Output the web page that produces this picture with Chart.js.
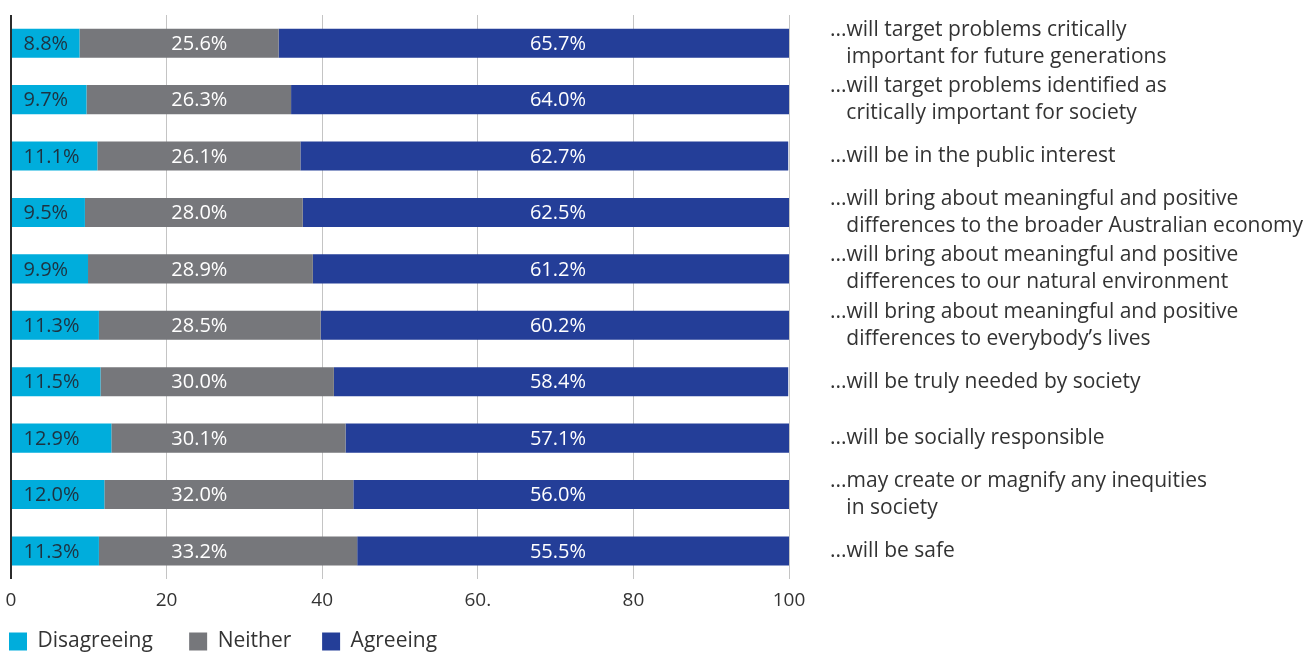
<!DOCTYPE html>
<html>
<head>
<meta charset="utf-8">
<script src="https://cdn.jsdelivr.net/npm/chart.js@4"></script>
<style>
html,body{margin:0;padding:0;background:#fff;}
#wrap{width:1306px;height:655px;position:relative;}
</style>
</head>
<body>
<div id="wrap"><canvas id="c" width="1306" height="655"></canvas></div>
<script>
const categories = [
  ["...will target problems critically", "   important for future generations"],
  ["...will target problems identified as", "   critically important for society"],
  ["...will be in the public interest"],
  ["...will bring about meaningful and positive", "   differences to the broader Australian economy"],
  ["...will bring about meaningful and positive", "   differences to our natural environment"],
  ["...will bring about meaningful and positive", "   differences to everybody\u2019s lives"],
  ["...will be truly needed by society"],
  ["...will be socially responsible"],
  ["...may create or magnify any inequities", "   in society"],
  ["...will be safe"]
];
const seriesNames = ["Disagreeing", "Neither", "Agreeing"];
const disagreeing = [8.8, 9.7, 11.1, 9.5, 9.9, 11.3, 11.5, 12.9, 12.0, 11.3];
const neither     = [25.6, 26.3, 26.1, 28.0, 28.9, 28.5, 30.0, 30.1, 32.0, 33.2];
const agreeing    = [65.7, 64.0, 62.7, 62.5, 61.2, 60.2, 58.4, 57.1, 56.0, 55.5];
const xTickValues = [0, 20, 40, 60, 80, 100];
const xTickLabels = ["0", "20", "40", "60.", "80", "100"];

const colors = ["#00ADDC", "#76777B", "#243E98"];
const labelColors = ["#1e3240", "#ffffff", "#ffffff"];
const labelAnchor = [1.6, 20.6, 66.7];
const legendPad = ["\u00A0\u00A0\u00A0\u00A0\u00A0", "\u00A0\u00A0\u00A0\u00A0", ""];

const valueLabels = {
  id: 'valueLabels',
  afterDatasetsDraw(chart) {
    const ctx = chart.ctx;
    const xs = chart.scales.x;
    ctx.save();
    ctx.font = '20px "Open Sans"';
    ctx.textBaseline = 'middle';
    ctx.textAlign = 'left';
    chart.data.datasets.forEach((ds, i) => {
      const meta = chart.getDatasetMeta(i);
      meta.data.forEach((el, j) => {
        ctx.fillStyle = labelColors[i];
        ctx.fillText(ds.data[j].toFixed(1) + '%', xs.getPixelForValue(labelAnchor[i]), el.y + 1);
      });
    });
    ctx.restore();
  }
};

function zeroPad(s) { s.paddingTop = 0; s.paddingBottom = 0; s.paddingLeft = 0; s.paddingRight = 0; }

new Chart(document.getElementById('c'), {
  type: 'bar',
  data: {
    labels: categories,
    datasets: [
      { label: seriesNames[0], data: disagreeing, backgroundColor: colors[0], yAxisID: 'y' },
      { label: seriesNames[1], data: neither, backgroundColor: colors[1], yAxisID: 'y' },
      { label: seriesNames[2], data: agreeing, backgroundColor: colors[2], yAxisID: 'y' }
    ]
  },
  options: {
    indexAxis: 'y',
    responsive: false,
    animation: false,
    layout: { padding: { left: 0, right: 0, top: 15, bottom: -7 } },
    datasets: { bar: { barPercentage: 0.515, categoryPercentage: 1 } },
    scales: {
      x: {
        stacked: true,
        min: 0, max: 100,
        afterBuildTicks(s) { s.ticks = xTickValues.map(v => ({ value: v })); },
        afterFit: zeroPad,
        grid: {
          drawTicks: false,
          color: c => (c.tick && c.tick.value === 0) ? '#2b2b2b' : '#c4c4c4',
          lineWidth: c => (c.tick && c.tick.value === 0) ? 2 : 1
        },
        border: { display: false },
        ticks: {
          padding: 10,
          color: '#333',
          font: { family: '"Open Sans"', size: 19 },
          callback: (v, i) => xTickLabels[i]
        }
      },
      y: {
        stacked: true,
        position: 'right',
        grid: { display: false, drawTicks: false },
        border: { display: false },
        afterFit(s) { s.width = 517; zeroPad(s); },
        ticks: {
          autoSkip: false,
          padding: 41,
          crossAlign: 'near',
          color: '#333',
          font: { family: '"Open Sans"', size: 21, lineHeight: 1.29 }
        }
      },
      yLeft: {
        type: 'category',
        position: 'left',
        display: true,
        grid: { display: false, drawTicks: false },
        border: { display: false },
        ticks: { display: false },
        afterFit(s) { s.width = 11; zeroPad(s); }
      }
    },
    plugins: {
      legend: {
        position: 'bottom',
        align: 'start',
        labels: {
          boxWidth: 18,
          boxHeight: 18,
          padding: 9,
          color: '#333',
          font: { family: '"Open Sans"', size: 21 },
          generateLabels(chart) {
            return chart.data.datasets.map((ds, i) => ({
              text: ds.label + legendPad[i],
              fillStyle: ds.backgroundColor,
              strokeStyle: ds.backgroundColor,
              lineWidth: 0,
              hidden: false,
              datasetIndex: i,
              fontColor: '#333'
            }));
          }
        }
      },
      tooltip: { enabled: false }
    }
  },
  plugins: [valueLabels]
});
</script>
</body>
</html>
